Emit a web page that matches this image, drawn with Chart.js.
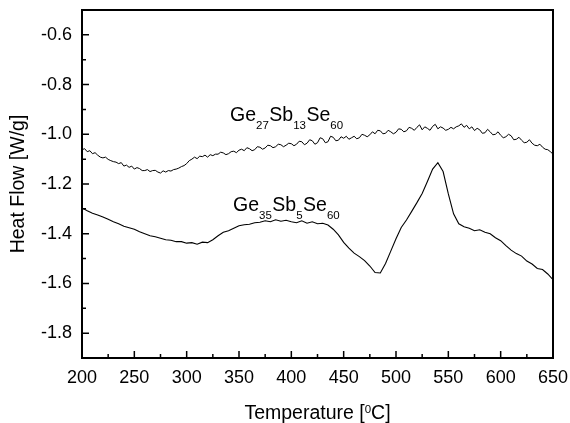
<!DOCTYPE html>
<html>
<head>
<meta charset="utf-8">
<script src="https://cdn.jsdelivr.net/npm/chart.js@4.4.1/dist/chart.umd.min.js"></script>
<style>
  html, body { margin: 0; padding: 0; background: #fff; }
  #wrap { width: 570px; height: 423px; }
</style>
</head>
<body>
<div id="wrap"><canvas id="charts" width="570" height="423"></canvas></div>
<script>
// Ge27Sb13Se60 was read every 2.5 degC (noisier trace)
const tempsGe27 = [200,202.5,205,207.5,210,212.5,215,217.5,220,222.5,225,227.5,230,232.5,235,237.5,240,242.5,245,247.5,
  250,252.5,255,257.5,260,262.5,265,267.5,270,272.5,275,277.5,280,282.5,285,287.5,290,292.5,295,297.5,
  300,302.5,305,307.5,310,312.5,315,317.5,320,322.5,325,327.5,330,332.5,335,337.5,340,342.5,345,347.5,
  350,352.5,355,357.5,360,362.5,365,367.5,370,372.5,375,377.5,380,382.5,385,387.5,390,392.5,395,397.5,
  400,402.5,405,407.5,410,412.5,415,417.5,420,422.5,425,427.5,430,432.5,435,437.5,440,442.5,445,447.5,
  450,452.5,455,457.5,460,462.5,465,467.5,470,472.5,475,477.5,480,482.5,485,487.5,490,492.5,495,497.5,
  500,502.5,505,507.5,510,512.5,515,517.5,520,522.5,525,527.5,530,532.5,535,537.5,540,542.5,545,547.5,
  550,552.5,555,557.5,560,562.5,565,567.5,570,572.5,575,577.5,580,582.5,585,587.5,590,592.5,595,597.5,
  600,602.5,605,607.5,610,612.5,615,617.5,620,622.5,625,627.5,630,632.5,635,637.5,640,642.5,645,647.5,
  650];

const heatFlowGe27 = [-1.062,-1.058,-1.070,-1.066,-1.078,-1.074,-1.084,-1.092,-1.095,-1.092,-1.101,-1.106,-1.110,-1.112,-1.118,-1.114,-1.128,-1.124,-1.133,-1.128,
  -1.140,-1.134,-1.138,-1.146,-1.146,-1.142,-1.150,-1.146,-1.145,-1.152,-1.156,-1.147,-1.152,-1.146,-1.148,-1.142,-1.140,-1.136,-1.130,-1.126,
  -1.118,-1.106,-1.100,-1.092,-1.098,-1.088,-1.090,-1.084,-1.092,-1.082,-1.086,-1.080,-1.080,-1.072,-1.075,-1.082,-1.078,-1.070,-1.068,-1.074,
  -1.064,-1.060,-1.066,-1.054,-1.058,-1.066,-1.062,-1.050,-1.052,-1.060,-1.055,-1.044,-1.046,-1.054,-1.050,-1.040,-1.042,-1.050,-1.044,-1.036,
  -1.038,-1.046,-1.040,-1.028,-1.030,-1.042,-1.036,-1.022,-1.026,-1.040,-1.034,-1.014,-1.018,-1.034,-1.030,-1.008,-1.012,-1.026,-1.024,-1.010,
  -1.016,-1.008,-1.020,-1.014,-1.008,-1.018,-1.014,-1.000,-1.004,-1.010,-1.002,-0.990,-0.998,-0.984,-0.986,-0.998,-0.996,-0.984,-0.990,-0.998,
  -0.992,-0.978,-0.980,-0.990,-0.986,-0.972,-0.976,-0.984,-0.972,-0.962,-0.982,-0.970,-0.976,-0.984,-0.968,-0.960,-0.978,-0.970,-0.975,-0.984,
  -0.980,-0.972,-0.978,-0.970,-0.966,-0.958,-0.972,-0.964,-0.978,-0.970,-0.985,-0.976,-0.982,-0.996,-0.994,-0.980,-0.990,-1.002,-1.000,-0.990,
  -1.004,-1.014,-1.010,-1.000,-1.006,-1.022,-1.020,-1.012,-1.024,-1.034,-1.032,-1.022,-1.036,-1.044,-1.046,-1.040,-1.052,-1.060,-1.062,-1.070,
  -1.080];

// Ge35Sb5Se60 read every 5 degC
const tempsGe35 = [200,205,210,215,220,225,230,235,240,245,250,255,260,265,270,275,280,285,290,295,
  300,305,310,315,320,325,330,335,340,345,350,355,360,365,370,375,380,385,390,395,
  400,405,410,415,420,425,430,435,440,445,450,455,460,465,470,475,480,485,490,495,
  500,505,510,515,520,525,530,535,540,545,550,555,560,565,570,575,580,585,590,595,
  600,605,610,615,620,625,630,635,640,645,650];

const heatFlowGe35 = [-1.296,-1.308,-1.318,-1.325,-1.333,-1.342,-1.352,-1.360,-1.370,-1.376,
  -1.382,-1.392,-1.400,-1.408,-1.412,-1.418,-1.424,-1.426,-1.432,-1.432,
  -1.438,-1.436,-1.442,-1.434,-1.436,-1.424,-1.408,-1.394,-1.388,-1.378,
  -1.368,-1.364,-1.362,-1.356,-1.354,-1.348,-1.352,-1.344,-1.350,-1.346,
  -1.352,-1.356,-1.348,-1.358,-1.352,-1.360,-1.358,-1.365,-1.382,-1.405,
  -1.435,-1.458,-1.478,-1.492,-1.508,-1.530,-1.556,-1.558,-1.520,-1.470,
  -1.420,-1.375,-1.345,-1.310,-1.275,-1.238,-1.190,-1.140,-1.114,-1.150,
  -1.240,-1.320,-1.360,-1.372,-1.378,-1.388,-1.384,-1.394,-1.400,-1.416,
  -1.428,-1.448,-1.466,-1.480,-1.490,-1.510,-1.522,-1.540,-1.544,-1.562,-1.585];

const xTickValues = [200,250,300,350,400,450,500,550,600,650];
const xMinorValues = [225,275,325,375,425,475,525,575,625];
const yTickValues = [-1.8,-1.6,-1.4,-1.2,-1.0,-0.8,-0.6];
const yMinorValues = [-1.9,-1.7,-1.5,-1.3,-1.1,-0.9,-0.7,-0.5];

const xTitle = ['Temperature [', '0', 'C]'];
const yTitle = 'Heat Flow [W/g]';

// label pieces: [text, isSubscript]
const labelGe27 = [['Ge',false],['27',true],['Sb',false],['13',true],['Se',false],['60',true]];
const labelGe35 = [['Ge',false],['35',true],['Sb',false],['5',true],['Se',false],['60',true]];

const FONT = '"Liberation Sans", Arial, sans-serif';

function toPoints(xs, ys) {
  return xs.map((t, i) => ({ x: t, y: ys[i] }));
}

function drawLabel(ctx, pieces, x, y) {
  let cx = x;
  ctx.textAlign = 'left';
  ctx.textBaseline = 'alphabetic';
  for (const p of pieces) {
    if (p[1]) {
      ctx.font = '11.5px ' + FONT;
      ctx.fillText(p[0], cx, y + 8.5);
    } else {
      ctx.font = '19.5px ' + FONT;
      ctx.fillText(p[0], cx, y);
    }
    cx += ctx.measureText(p[0]).width + (p[1] ? 0.5 : 0);
  }
}

const framePlugin = {
  id: 'frame',
  afterDraw(chart) {
    const ctx = chart.ctx;
    const a = chart.chartArea;
    const xs = chart.scales.x;
    const ys = chart.scales.y;
    ctx.save();
    ctx.strokeStyle = '#000';
    ctx.fillStyle = '#000';

    // inward ticks
    ctx.lineWidth = 1.5;
    ctx.beginPath();
    xTickValues.forEach(v => { const px = xs.getPixelForValue(v); ctx.moveTo(px, a.bottom); ctx.lineTo(px, a.bottom - 7); });
    xMinorValues.forEach(v => { const px = xs.getPixelForValue(v); ctx.moveTo(px, a.bottom); ctx.lineTo(px, a.bottom - 4); });
    yTickValues.forEach(v => { const py = ys.getPixelForValue(v); ctx.moveTo(a.left, py); ctx.lineTo(a.left + 7, py); });
    yMinorValues.forEach(v => { const py = ys.getPixelForValue(v); ctx.moveTo(a.left, py); ctx.lineTo(a.left + 4, py); });
    ctx.stroke();

    // box
    ctx.lineWidth = 2;
    ctx.strokeRect(a.left, a.top, a.right - a.left, a.bottom - a.top);

    // x title with superscript
    ctx.textBaseline = 'alphabetic';
    ctx.textAlign = 'left';
    ctx.font = '19.5px ' + FONT;
    const w1 = ctx.measureText(xTitle[0]).width;
    const w3 = ctx.measureText(xTitle[2]).width;
    ctx.font = '11.5px ' + FONT;
    const w2 = ctx.measureText(xTitle[1]).width;
    const cx = (a.left + a.right) / 2;
    let sx = cx - (w1 + w2 + w3) / 2;
    ctx.font = '19.5px ' + FONT;
    ctx.fillText(xTitle[0], sx, 419);
    ctx.font = '11.5px ' + FONT;
    ctx.fillText(xTitle[1], sx + w1, 413);
    ctx.font = '19.5px ' + FONT;
    ctx.fillText(xTitle[2], sx + w1 + w2, 419);

    // y title
    ctx.save();
    ctx.translate(23.5, (a.top + a.bottom) / 2);
    ctx.rotate(-Math.PI / 2);
    ctx.textAlign = 'center';
    ctx.fillText(yTitle, 0, 0);
    ctx.restore();

    // series labels
    drawLabel(ctx, labelGe27, xs.getPixelForValue(341.4), ys.getPixelForValue(-0.946));
    drawLabel(ctx, labelGe35, xs.getPixelForValue(344.3), ys.getPixelForValue(-1.308));

    ctx.restore();
  }
};

Chart.defaults.font.family = FONT;
Chart.defaults.color = '#000';

new Chart(document.getElementById('charts'), {
  type: 'line',
  data: {
    datasets: [
      {
        label: 'Ge27Sb13Se60',
        data: toPoints(tempsGe27, heatFlowGe27),
        borderColor: '#000',
        borderWidth: 1,
        pointRadius: 0,
        tension: 0
      },
      {
        label: 'Ge35Sb5Se60',
        data: toPoints(tempsGe35, heatFlowGe35),
        borderColor: '#000',
        borderWidth: 1.1,
        pointRadius: 0,
        tension: 0
      }
    ]
  },
  options: {
    responsive: false,
    animation: false,
    layout: { padding: { left: 0, right: 17, top: 10, bottom: 0 } },
    plugins: {
      legend: { display: false },
      tooltip: { enabled: false }
    },
    scales: {
      x: {
        type: 'linear',
        min: 200,
        max: 650,
        grid: { display: false, drawTicks: false },
        border: { display: false },
        afterBuildTicks: s => { s.ticks = xTickValues.map(v => ({ value: v })); },
        afterFit: s => { s.height = 65; s.paddingLeft = 0; s.paddingRight = 0; },
        ticks: {
          padding: 9,
          maxRotation: 0,
          autoSkip: false,
          font: { size: 18 },
          callback: v => String(v)
        }
      },
      y: {
        min: -1.9,
        max: -0.5,
        grid: { display: false, drawTicks: false },
        border: { display: false },
        afterBuildTicks: s => { s.ticks = yTickValues.map(v => ({ value: v })); },
        afterFit: s => { s.width = 82; s.paddingTop = 0; s.paddingBottom = 0; },
        ticks: {
          padding: 10,
          autoSkip: false,
          font: { size: 18 },
          callback: v => Number(v).toFixed(1)
        }
      }
    }
  },
  plugins: [framePlugin]
});
</script>
</body>
</html>
